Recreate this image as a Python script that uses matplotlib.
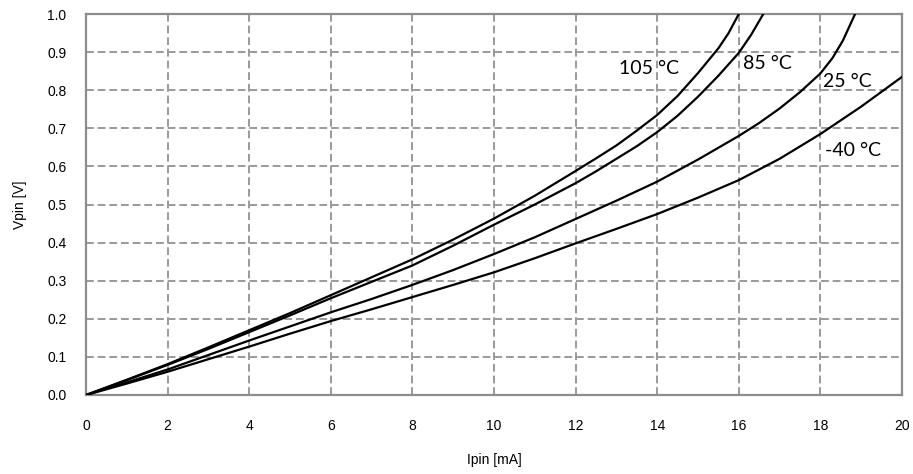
import matplotlib
matplotlib.use("Agg")
import matplotlib.pyplot as plt

# Data
i_105 = [0, 1, 2, 3, 4, 5, 6, 7, 8, 9, 10, 11, 12, 12.5, 13, 13.5, 14, 14.5, 15, 15.5, 15.75, 16.0]
v_105 = [0, 0.040, 0.081, 0.125, 0.170, 0.215, 0.262, 0.309, 0.356, 0.408, 0.463, 0.523, 0.588,
         0.621, 0.655, 0.694, 0.735, 0.785, 0.845, 0.91, 0.95, 1.0]

i_85 = [0, 1, 2, 3, 4, 5, 6, 7, 8, 9, 10, 11, 12, 12.5, 13, 13.5, 14, 14.5, 15, 15.5, 16, 16.3, 16.6]
v_85 = [0, 0.039, 0.079, 0.121, 0.165, 0.209, 0.254, 0.297, 0.340, 0.392, 0.447, 0.500, 0.556,
        0.587, 0.620, 0.653, 0.690, 0.733, 0.783, 0.838, 0.898, 0.945, 1.0]

i_25 = [0, 1, 2, 3, 4, 5, 6, 7, 8, 9, 10, 11, 12, 13, 14, 15, 16, 16.5, 17, 17.5, 18, 18.3, 18.55, 18.85]
v_25 = [0, 0.033, 0.067, 0.105, 0.143, 0.180, 0.217, 0.252, 0.289, 0.328, 0.370, 0.414, 0.462,
        0.510, 0.560, 0.618, 0.680, 0.714, 0.752, 0.795, 0.844, 0.885, 0.930, 1.0]

i_m40 = [0, 1, 2, 3, 4, 5, 6, 7, 8, 9, 10, 11, 12, 13, 14, 15, 16, 17, 18, 19, 20]
v_m40 = [0, 0.030, 0.061, 0.094, 0.127, 0.161, 0.194, 0.225, 0.257, 0.289, 0.322, 0.359, 0.398,
         0.436, 0.475, 0.518, 0.564, 0.620, 0.685, 0.757, 0.835]

series_labels = ["105 °C", "85 °C", "25 °C", "-40 °C"]
label_pos = [(13.79, 0.858), (16.70, 0.871), (18.66, 0.822), (18.79, 0.643)]

x_ticks = list(range(0, 21, 2))
y_ticks = [round(0.1 * k, 1) for k in range(11)]
x_label = "Ipin [mA]"
y_label = "Vpin [V]"

fig = plt.figure(figsize=(9.13, 4.74), dpi=100)
ax = fig.add_axes([86 / 913, 1 - 395 / 474, (902 - 86) / 913, (395 - 14) / 474])

for xs, ys in [(i_105, v_105), (i_85, v_85), (i_25, v_25), (i_m40, v_m40)]:
    ax.plot(xs, ys, color="black", lw=1.6, solid_joinstyle="round", zorder=3)

ax.set_xlim(0, 20)
ax.set_ylim(0, 1.0)
ax.set_xticks(x_ticks)
ax.set_yticks(y_ticks)
ax.set_xticklabels([str(t) for t in x_ticks], family="Liberation Sans", fontsize=10)
ax.set_yticklabels([f"{t:.1f}" for t in y_ticks], family="Liberation Sans", fontsize=10)
ax.tick_params(axis="x", length=0, pad=17)
ax.tick_params(axis="y", length=0, pad=14)

ax.grid(True, color="#9a9a9a", lw=1.4, linestyle=(0, (4, 2)), zorder=1)
ax.set_axisbelow(True)
for s in ax.spines.values():
    s.set_color("#8c8c8c")
    s.set_linewidth(1.6)

for txt, (x, y) in zip(series_labels, label_pos):
    ax.text(x, y, txt, ha="center", va="center", family="Lato", fontsize=14, zorder=4)

fig.text(494 / 913, 1 - 460 / 474, x_label, ha="center", va="center",
         family="Liberation Sans", fontsize=10)
fig.text(20 / 913, 1 - 205 / 474, y_label, ha="center", va="center", rotation=90,
         family="Liberation Sans", fontsize=10)

fig.savefig("out.png", dpi=100)
